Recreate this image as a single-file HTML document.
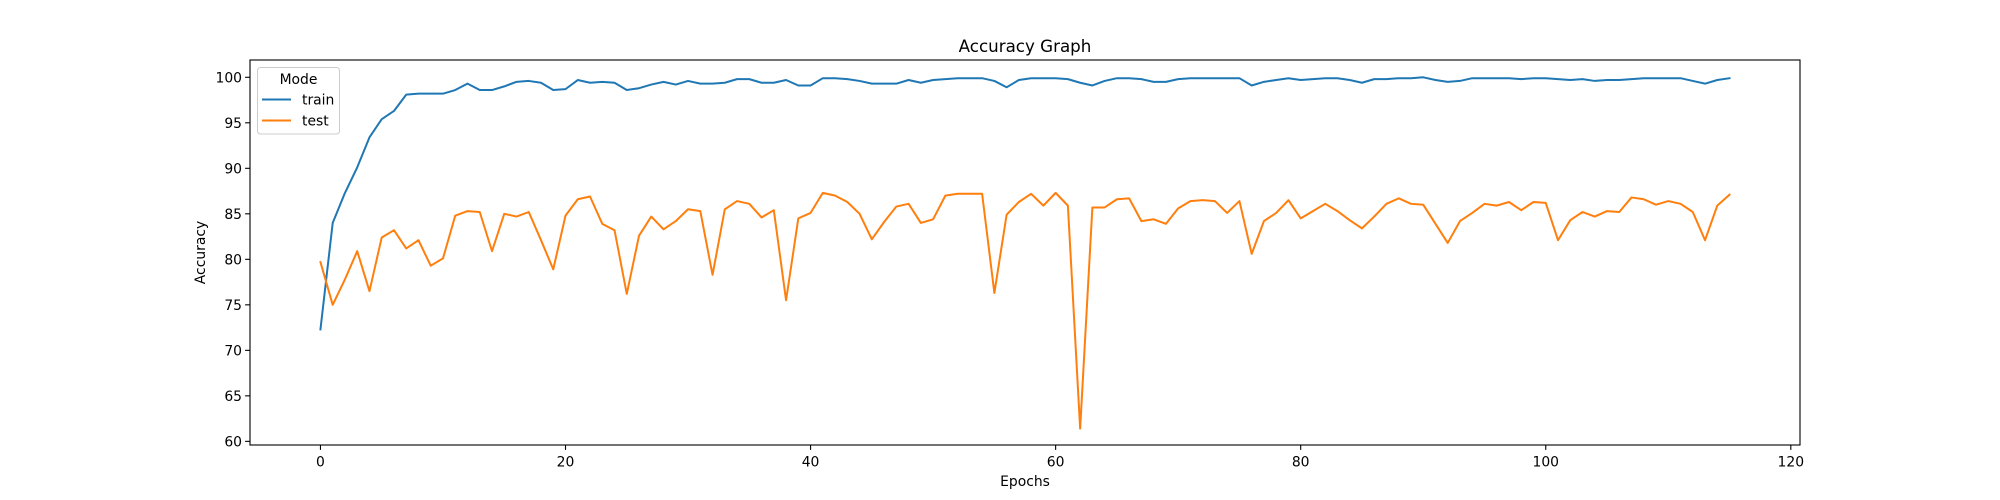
<!DOCTYPE html>
<html><head><meta charset="utf-8"><style>
body{margin:0;background:#fff}
svg{display:block;font-family:"DejaVu Sans","Liberation Sans",sans-serif}
</style></head><body>
<svg id="chart" width="2000" height="500" viewBox="0 0 2000 500">
<rect width="2000" height="500" fill="#fff"/>
<text x="1025" y="52" text-anchor="middle" font-size="16.7" fill="#000">Accuracy Graph</text>
<g id="xticks"></g>
<g id="yticks"></g>
<g id="series"></g>
<rect x="250" y="60" width="1550" height="385" fill="none" stroke="#000" stroke-width="1.1"/>
<text x="1025" y="486" text-anchor="middle" font-size="13.9">Epochs</text>
<text transform="translate(205,252.5) rotate(-90)" text-anchor="middle" font-size="13.9">Accuracy</text>
<g>
<rect x="257.5" y="67.5" width="82" height="66.5" rx="3" fill="#fff" fill-opacity="0.8" stroke="#ccc"/>
<text x="298.5" y="84" text-anchor="middle" font-size="13.9">Mode</text>
<g><line x1="262" y1="99.5" x2="291" y2="99.5" stroke="#1f77b4" stroke-width="2"/><text x="302" y="104.5" font-size="13.9">train</text></g>
<g><line x1="262" y1="120.5" x2="291" y2="120.5" stroke="#ff7f0e" stroke-width="2"/><text x="302" y="125.5" font-size="13.9">test</text></g>
</g>
</svg>
<script>
const trainAcc=[72.3,84.0,87.3,90.1,93.4,95.4,96.3,98.1,98.2,98.2,98.2,98.6,99.3,98.6,98.6,99.0,99.5,99.6,99.4,98.6,98.7,99.7,99.4,99.5,99.4,98.6,98.8,99.2,99.5,99.2,99.6,99.3,99.3,99.4,99.8,99.8,99.4,99.4,99.7,99.1,99.1,99.9,99.9,99.8,99.6,99.3,99.3,99.3,99.7,99.4,99.7,99.8,99.9,99.9,99.9,99.6,98.9,99.7,99.9,99.9,99.9,99.8,99.4,99.1,99.6,99.9,99.9,99.8,99.5,99.5,99.8,99.9,99.9,99.9,99.9,99.9,99.1,99.5,99.7,99.9,99.7,99.8,99.9,99.9,99.7,99.4,99.8,99.8,99.9,99.9,100.0,99.7,99.5,99.6,99.9,99.9,99.9,99.9,99.8,99.9,99.9,99.8,99.7,99.8,99.6,99.7,99.7,99.8,99.9,99.9,99.9,99.9,99.6,99.3,99.7,99.9];
const testAcc=[79.7,75.0,77.8,80.9,76.5,82.4,83.2,81.2,82.1,79.3,80.1,84.8,85.3,85.2,80.9,85.0,84.7,85.2,82.1,78.9,84.8,86.6,86.9,83.9,83.2,76.2,82.6,84.7,83.3,84.2,85.5,85.3,78.3,85.5,86.4,86.1,84.6,85.4,75.5,84.5,85.1,87.3,87.0,86.3,85.0,82.2,84.1,85.8,86.1,84.0,84.4,87.0,87.2,87.2,87.2,76.3,84.9,86.3,87.2,85.9,87.3,85.9,61.4,85.7,85.7,86.6,86.7,84.2,84.4,83.9,85.6,86.4,86.5,86.4,85.1,86.4,80.6,84.2,85.1,86.5,84.5,85.3,86.1,85.3,84.3,83.4,84.7,86.1,86.7,86.1,86.0,83.9,81.8,84.2,85.1,86.1,85.9,86.3,85.4,86.3,86.2,82.1,84.3,85.2,84.7,85.3,85.2,86.8,86.6,86.0,86.4,86.1,85.2,82.1,85.9,87.1];
const xTicks=[0,20,40,60,80,100,120];
const yTicks=[60,65,70,75,80,85,90,95,100];
const NS="http://www.w3.org/2000/svg";
const X0=250,X1=1800,Y0=445,Y1=60;
const xMin=-5.75,xMax=120.75,yMin=59.6,yMax=101.9;
function sx(v){return X0+(v-xMin)/(xMax-xMin)*(X1-X0);}
function sy(v){return Y0-(v-yMin)/(yMax-yMin)*(Y0-Y1);}
function mk(tag,attrs,parent){const e=document.createElementNS(NS,tag);for(const k in attrs)e.setAttribute(k,attrs[k]);parent.appendChild(e);return e;}
const xg=document.getElementById('xticks'),yg=document.getElementById('yticks');
xTicks.forEach(t=>{const x=sx(t);
 const l=mk('line',{x1:x,y1:Y0,x2:x,y2:Y0+4.9,stroke:'#000','stroke-width':1.1},xg);
 
 
 const tx=mk('text',{x:x,y:Y0+21.5,'text-anchor':'middle','font-size':13.9},xg);tx.textContent=t;
 
 
});
yTicks.forEach(t=>{const y=sy(t);
 const l=mk('line',{x1:X0-4.9,y1:y,x2:X0,y2:y,stroke:'#000','stroke-width':1.1},yg);
 
 
 const tx=mk('text',{x:X0-8,y:y+5,'text-anchor':'end','font-size':13.9},yg);tx.textContent=t;
 
 
});
const sg=document.getElementById('series');
function line(vals,color,name){
 const d=vals.map((v,i)=>(i?'L':'M')+sx(i).toFixed(2)+','+sy(v).toFixed(2)).join(' ');
 const p=mk('path',{d:d,fill:'none',stroke:color,'stroke-width':2,'stroke-linejoin':'round','stroke-linecap':'square'},sg);
 
 
}
line(trainAcc,'#1f77b4','train-line');
line(testAcc,'#ff7f0e','test-line');
</script>
</body></html>
